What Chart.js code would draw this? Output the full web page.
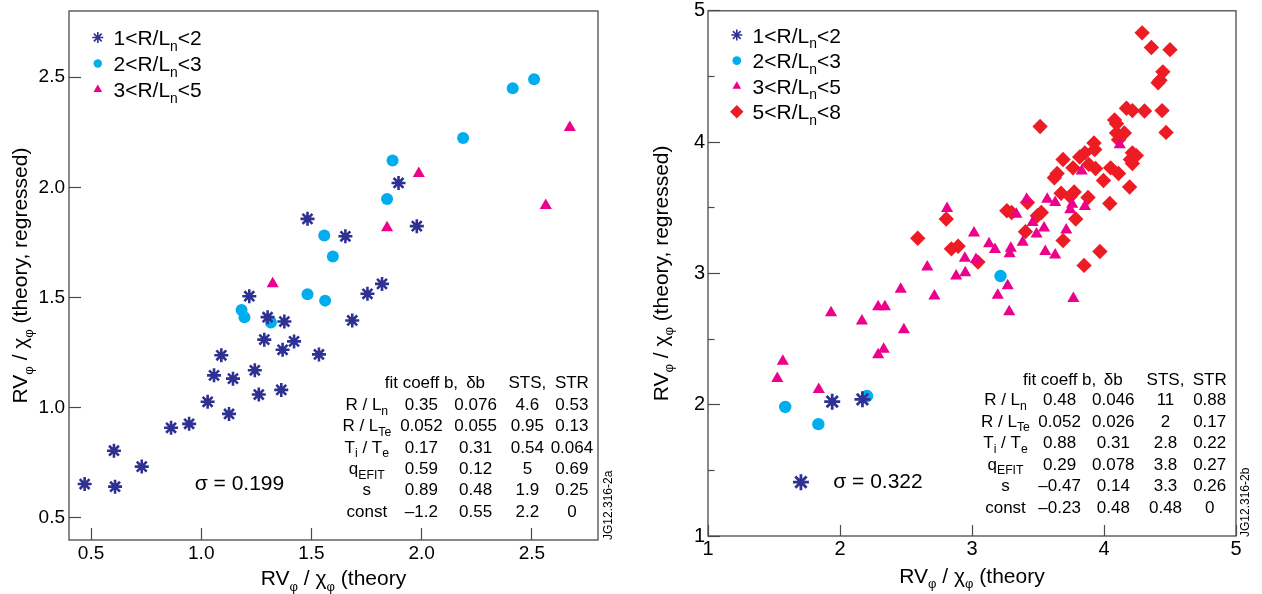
<!DOCTYPE html>
<html><head><meta charset="utf-8">
<script src="https://cdn.jsdelivr.net/npm/chart.js@4.4.1/dist/chart.umd.min.js"></script>
<style>
html,body{margin:0;padding:0;background:#fff;width:1262px;height:594px;overflow:hidden}
#wl{position:absolute;left:0;top:0;width:640px;height:594px}
#wr{position:absolute;left:640px;top:0;width:622px;height:594px}
</style></head><body>
<div id="wl"><canvas id="cl"></canvas></div>
<div id="wr"><canvas id="cr"></canvas></div>
<script>
// ---------- LEFT PANEL DATA ----------
const L_STAR_X = [1.895,1.482,1.978,1.654,1.820,1.754,1.218,1.301,1.377,1.685,1.286,1.421,1.369,1.091,1.534,1.243,1.058,1.144,1.261,1.363,1.029,1.126,0.863,0.945,0.604,0.730,0.471,0.609];
const L_STAR_Y = [2.020,1.857,1.824,1.778,1.562,1.517,1.506,1.411,1.391,1.396,1.309,1.301,1.263,1.238,1.242,1.170,1.147,1.132,1.060,1.081,1.027,0.972,0.909,0.927,0.805,0.733,0.654,0.642];
const L_CIRC_X = [2.413,2.510,2.188,1.868,1.843,1.558,1.597,1.482,1.562,1.183,1.196,1.316];
const L_CIRC_Y = [2.450,2.490,2.224,2.122,1.947,1.782,1.686,1.515,1.486,1.444,1.411,1.387];
const L_TRI_X = [2.672,1.987,2.563,1.843,1.324];
const L_TRI_Y = [2.271,2.063,1.918,1.817,1.563];
const L_XTICKS = [0.5,1.0,1.5,2.0,2.5];
const L_YTICKS = [0.5,1.0,1.5,2.0,2.5];
const L_SERIES = ["1<R/L_{n}<2","2<R/L_{n}<3","3<R/L_{n}<5"];
const L_TAB_HEAD = ["fit coeff b,","δb","STS,","STR"];
const L_TAB_ROWS = ["R / L_{n}","R / L_{Te}","T_{i} / T_{e}","q_{EFIT}","s","const"];
const L_B   = ["0.35","0.052","0.17","0.59","0.89","–1.2"];
const L_DB  = ["0.076","0.055","0.31","0.12","0.48","0.55"];
const L_STS = ["4.6","0.95","0.54","5","1.9","2.2"];
const L_STR = ["0.53","0.13","0.064","0.69","0.25","0"];
const L_SIGMA = "σ = 0.199";
const L_TAG = "JG12.316-2a";

// ---------- RIGHT PANEL DATA ----------
const R_STAR_X = [1.941,2.170,1.704];
const R_STAR_Y = [2.023,2.041,1.410];
const R_CIRC_X = [3.216,2.205,1.585,1.836];
const R_CIRC_Y = [2.980,2.066,1.983,1.852];
const R_TRI_X = [4.119,3.831,3.414,3.570,3.630,3.759,3.744,3.855,3.336,2.811,3.459,3.546,3.489,3.714,3.015,3.129,3.174,3.384,3.294,3.285,3.555,3.630,2.946,3.030,2.661,2.880,2.949,2.460,2.715,3.195,3.270,3.768,3.282,1.932,2.289,2.340,2.166,2.484,2.331,2.289,1.567,1.525,1.839];
const R_TRI_Y = [3.980,3.779,3.565,3.565,3.540,3.527,3.484,3.509,3.451,3.494,3.388,3.345,3.300,3.330,3.308,3.225,3.182,3.237,3.192,3.149,3.167,3.141,3.116,3.106,3.048,2.980,3.005,2.880,2.827,2.834,2.905,2.809,2.708,2.701,2.746,2.746,2.638,2.570,2.423,2.381,2.330,2.200,2.116];
const R_DIA_X = [4.289,4.359,4.500,4.446,4.410,4.424,4.170,4.215,4.307,4.440,4.470,3.516,4.080,4.095,4.154,4.095,4.110,3.924,3.930,3.855,3.816,3.690,4.215,4.245,4.200,4.215,3.765,3.885,3.936,4.050,4.110,3.645,3.624,3.996,4.194,3.675,3.774,3.744,3.879,4.044,3.420,3.264,3.300,3.525,3.495,3.786,2.805,3.405,2.589,3.690,2.844,2.895,3.045,3.969,3.849];
const R_DIA_Y = [4.832,4.721,4.704,4.535,4.452,4.472,4.258,4.240,4.237,4.240,4.074,4.119,4.169,4.139,4.069,4.069,4.018,3.993,3.943,3.918,3.887,3.867,3.918,3.897,3.867,3.837,3.804,3.830,3.799,3.804,3.761,3.761,3.729,3.708,3.658,3.610,3.620,3.585,3.578,3.532,3.540,3.477,3.464,3.464,3.439,3.414,3.414,3.318,3.268,3.250,3.187,3.207,3.086,3.167,3.061];
const R_XTICKS = [1,2,3,4,5];
const R_YTICKS = [1,2,3,4,5];
const R_YMINOR = [1.5,2.5,3.5,4.5];
const R_SERIES = ["1<R/L_{n}<2","2<R/L_{n}<3","3<R/L_{n}<5","5<R/L_{n}<8"];
const R_TAB_HEAD = ["fit coeff b,","δb","STS,","STR"];
const R_TAB_ROWS = ["R / L_{n}","R / L_{Te}","T_{i} / T_{e}","q_{EFIT}","s","const"];
const R_B   = ["0.48","0.052","0.88","0.29","–0.47","–0.23"];
const R_DB  = ["0.046","0.026","0.31","0.078","0.14","0.48"];
const R_STS = ["11","2","2.8","3.8","3.3","0.48"];
const R_STR = ["0.88","0.17","0.22","0.27","0.26","0"];
const R_SIGMA = "σ = 0.322";
const R_TAG = "JG12.316-2b";

const X_TITLE = "RV_{φ} / χ_{φ} (theory";
const Y_TITLE = "RV_{φ} / χ_{φ} (theory, regressed)";

// ---------- STYLE ----------
const FONT = "'Liberation Sans', Arial, Helvetica, sans-serif";
const FRAME = '#4a4a4a';
const C_STAR = '#2e3192', C_CIRC = '#00aeef', C_TRI = '#ec008c', C_DIA = '#ed1c24';

function pts(xs, ys){ return xs.map((x,i)=>({x:x, y:ys[i]})); }
function parts(str){
  const out=[]; const re=/_\{([^}]*)\}/g; let last=0, m;
  while((m=re.exec(str))){ if(m.index>last) out.push([str.slice(last,m.index),0]); out.push([m[1],1]); last=re.lastIndex; }
  if(last<str.length) out.push([str.slice(last),0]);
  return out;
}
function fnt(s){ return s.toFixed(2)+'px '+FONT; }
function drawRich(ctx, str, x, yc, size, align, subScale){
  const ps = parts(str), sub = size*(subScale||0.68);
  let w=0; for(const [t,s] of ps){ ctx.font=fnt(s?sub:size); w+=ctx.measureText(t).width; }
  let cx = align==='center' ? x-w/2 : (align==='right' ? x-w : x);
  const base = yc + 0.358*size;
  ctx.textAlign='left'; ctx.textBaseline='alphabetic';
  for(const [t,s] of ps){ ctx.font=fnt(s?sub:size); ctx.fillText(t, cx, base + (s? size*0.27 : 0)); cx += ctx.measureText(t).width; }
}

function makePlugin(cfg){
  return {
    id:'annot',
    beforeDatasetsDraw(chart){
      const ctx=chart.ctx, a=chart.chartArea;
      ctx.save(); ctx.strokeStyle=FRAME; ctx.lineWidth=1.3;
      ctx.strokeRect(a.left, a.top, a.right-a.left, a.bottom-a.top);
      ctx.restore();
    },
    afterDatasetsDraw(chart){
      const ctx=chart.ctx, a=chart.chartArea, H=Chart.helpers;
      ctx.save(); ctx.fillStyle='#000';
      cfg.series.forEach((lab,i)=>{
        const y = cfg.legY0 + i*cfg.legDy, st = cfg.legStyles[i];
        ctx.save();
        ctx.fillStyle=st.color; ctx.strokeStyle=st.color; ctx.lineWidth=st.bw;
        H.drawPoint(ctx, {pointStyle:st.style, radius:st.r, rotation:0, borderWidth:st.bw}, cfg.legMX, y);
        ctx.restore();
        ctx.fillStyle='#000';
        drawRich(ctx, lab, cfg.legTX, y, cfg.legSize, 'left', 0.66);
      });
      const cols=[cfg.b, cfg.db, cfg.sts, cfg.str];
      cfg.head.forEach((h,j)=> drawRich(ctx, h, cfg.colX[j], cfg.headY, cfg.tabSize, 'center'));
      cfg.rows.forEach((r,i)=>{
        const y = cfg.rowY0 + i*cfg.rowDy;
        drawRich(ctx, r, cfg.labX, y, cfg.tabSize, 'center', 0.72);
        cols.forEach((c,j)=> drawRich(ctx, c[i], cfg.colX[j], y, cfg.tabSize, 'center'));
      });
      drawRich(ctx, cfg.sigma, cfg.sigX, cfg.sigY, cfg.sigSize, 'center');
      drawRich(ctx, X_TITLE, (a.left+a.right)/2, cfg.xtY, cfg.titleSize, 'center', 0.62);
      ctx.save(); ctx.translate(cfg.ytX, (a.top+a.bottom)/2); ctx.rotate(-Math.PI/2);
      drawRich(ctx, Y_TITLE, 0, 0, cfg.titleSize, 'center', 0.62); ctx.restore();
      ctx.save(); ctx.translate(cfg.tagX, cfg.tagY); ctx.rotate(-Math.PI/2);
      drawRich(ctx, cfg.tag, 0, 0, 12, 'left'); ctx.restore();
      ctx.restore();
    }
  };
}

function noPad(s){ s.paddingTop=0; s.paddingBottom=0; s.paddingLeft=0; s.paddingRight=0; }
function xAxis(min,max,ticks,h,tl,pad,size){
  return {type:'linear', position:'bottom', min:min, max:max,
    afterBuildTicks:s=>{ s.ticks = ticks.map(v=>({value:v})); },
    afterFit:s=>{ s.height=h; noPad(s); },
    grid:{drawOnChartArea:false, drawTicks:true, tickLength:tl, tickColor:FRAME, tickWidth:1.2, color:FRAME},
    border:{display:false},
    ticks:{padding:pad, color:'#000', font:{family:FONT, size:size}, autoSkip:false, maxRotation:0,
      callback:(v)=> (Math.abs(max-min)<3 ? v.toFixed(1) : String(v))}
  };
}
function yAxis(min,max,ticks,w,tl,pad,size,weight){
  return {type:'linear', position:'left', min:min, max:max, weight:weight,
    afterBuildTicks:s=>{ s.ticks = ticks.map(v=>({value:v})); },
    afterFit:s=>{ s.width=w; noPad(s); },
    grid:{drawOnChartArea:false, drawTicks:true, tickLength:tl, tickColor:FRAME, tickWidth:1.2, color:FRAME},
    border:{display:false},
    ticks:{padding:pad, color:'#000', font:{family:FONT, size:size}, autoSkip:false,
      callback:(v)=> (Math.abs(max-min)<3 ? v.toFixed(1) : String(v))}
  };
}

// ---------- LEFT CHART ----------
new Chart(document.getElementById('cl'), {
  type:'scatter',
  data:{datasets:[
    {label:'1<R/Ln<2', data:pts(L_STAR_X,L_STAR_Y), pointStyle:'star', pointRadius:7, pointBorderWidth:2.6, borderColor:C_STAR, backgroundColor:C_STAR},
    {label:'2<R/Ln<3', data:pts(L_CIRC_X,L_CIRC_Y), pointStyle:'circle', pointRadius:6, pointBorderWidth:0, borderColor:C_CIRC, backgroundColor:C_CIRC},
    {label:'3<R/Ln<5', data:pts(L_TRI_X,L_TRI_Y), pointStyle:'triangle', pointRadius:7, pointBorderWidth:0, borderColor:C_TRI, backgroundColor:C_TRI}
  ]},
  options:{responsive:true, maintainAspectRatio:false, animation:false, devicePixelRatio:1,
    layout:{padding:{left:0, top:11, right:42, bottom:0}},
    plugins:{legend:{display:false}, tooltip:{enabled:false}},
    scales:{ x:xAxis(0.4,2.8,L_XTICKS,54,-12,14,19), y:yAxis(0.4,2.8,L_YTICKS,69,-12,16,19,1) }
  },
  plugins:[makePlugin({
    series:L_SERIES, legY0:37.5, legDy:26, legMX:97.8, legTX:113.5, legSize:21,
    legStyles:[{style:'star',r:5.5,bw:1.6,color:C_STAR},{style:'circle',r:4.2,bw:0,color:C_CIRC},{style:'triangle',r:5,bw:0,color:C_TRI}],
    head:L_TAB_HEAD, rows:L_TAB_ROWS, b:L_B, db:L_DB, sts:L_STS, str:L_STR,
    colX:[421.4,475.6,527.4,571.9], labX:366.8, headY:381.7, rowY0:404, rowDy:21.3, tabSize:17,
    sigma:L_SIGMA, sigX:239.5, sigY:482.5, sigSize:21,
    xtY:577.5, ytX:19.5, titleSize:21,
    tag:L_TAG, tagX:608, tagY:540
  })]
});

// ---------- RIGHT CHART ----------
const yR = yAxis(1,5,R_YTICKS,68,-12,15,20,1);
const yRm = {type:'linear', position:'left', min:1, max:5, weight:0,
  afterBuildTicks:s=>{ s.ticks = R_YMINOR.map(v=>({value:v})); },
  afterFit:s=>{ s.width=0; noPad(s); },
  grid:{drawOnChartArea:false, drawTicks:true, tickLength:-6.5, tickColor:FRAME, tickWidth:1.2, color:FRAME},
  border:{display:false}, ticks:{display:false}};
new Chart(document.getElementById('cr'), {
  type:'scatter',
  data:{datasets:[
    {label:'1<R/Ln<2', data:pts(R_STAR_X,R_STAR_Y), yAxisID:'y', pointStyle:'star', pointRadius:8, pointBorderWidth:2.8, borderColor:C_STAR, backgroundColor:C_STAR},
    {label:'2<R/Ln<3', data:pts(R_CIRC_X,R_CIRC_Y), yAxisID:'y', pointStyle:'circle', pointRadius:6.2, pointBorderWidth:0, borderColor:C_CIRC, backgroundColor:C_CIRC},
    {label:'3<R/Ln<5', data:pts(R_TRI_X,R_TRI_Y), yAxisID:'y', pointStyle:'triangle', pointRadius:7, pointBorderWidth:0, borderColor:C_TRI, backgroundColor:C_TRI},
    {label:'5<R/Ln<8', data:pts(R_DIA_X,R_DIA_Y), yAxisID:'y', pointStyle:'rectRot', pointRadius:7.7, pointBorderWidth:0, borderColor:C_DIA, backgroundColor:C_DIA}
  ]},
  options:{responsive:true, maintainAspectRatio:false, animation:false, devicePixelRatio:1,
    layout:{padding:{left:0, top:7, right:26, bottom:0}},
    plugins:{legend:{display:false}, tooltip:{enabled:false}},
    scales:{ x:xAxis(1,5,R_XTICKS,58,-11,12.5,20), y:yR, ym:yRm }
  },
  plugins:[makePlugin({
    series:R_SERIES, legY0:35, legDy:25.6, legMX:96.8, legTX:112.6, legSize:21,
    legStyles:[{style:'star',r:5.5,bw:1.6,color:C_STAR},{style:'circle',r:4.4,bw:0,color:C_CIRC},{style:'triangle',r:5,bw:0,color:C_TRI},{style:'rectRot',r:6.7,bw:0,color:C_DIA}],
    head:R_TAB_HEAD, rows:R_TAB_ROWS, b:R_B, db:R_DB, sts:R_STS, str:R_STR,
    colX:[419.6,473.3,525.5,569.7], labX:365.5, headY:379, rowY0:399.3, rowDy:21.5, tabSize:17,
    sigma:R_SIGMA, sigX:238, sigY:480, sigSize:21,
    xtY:575, ytX:20, titleSize:21,
    tag:R_TAG, tagX:604.5, tagY:537
  })]
});
</script>
</body></html>
